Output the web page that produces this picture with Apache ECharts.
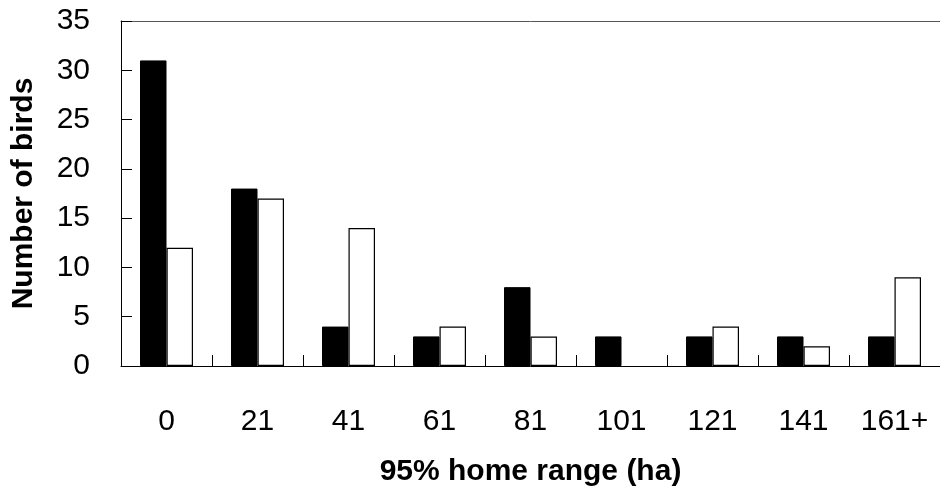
<!DOCTYPE html>
<html>
<head>
<meta charset="utf-8">
<script src="https://cdn.jsdelivr.net/npm/echarts@6/dist/echarts.min.js"></script>
<style>html,body{margin:0;padding:0;background:#fff;}#c{width:940px;height:496px;}</style>
</head>
<body>
<div id="c"></div>
<script>
const categories = ['0', '21', '41', '61', '81', '101', '121', '141', '161+'];
const blackSeries = [31, 18, 4, 3, 8, 3, 3, 3, 3];
const whiteSeries = [12, 17, 14, 4, 3, 0, 4, 2, 9];
const yTicks = [0, 5, 10, 15, 20, 25, 30, 35];

const chart = echarts.init(document.getElementById('c'), null, {renderer: 'canvas'});
const font = '"Liberation Sans", Arial, sans-serif';
chart.setOption({
  animation: false,
  backgroundColor: '#fff',
  grid: {left: 121, top: 21, width: 828, height: 345, show: false},
  xAxis: [{
    type: 'category',
    data: categories,
    position: 'bottom',
    axisLine: {show: true, lineStyle: {color: '#000', width: 1}},
    axisTick: {show: true, inside: true, length: 11, alignWithLabel: false, lineStyle: {color: '#000'}},
    axisLabel: {color: '#000', fontFamily: font, fontSize: 30, margin: 41},
    name: '95% home range (ha)',
    nameLocation: 'middle',
    nameGap: 91,
    nameTextStyle: {color: '#000', fontFamily: font, fontSize: 30, fontWeight: 'bold'},
    splitLine: {show: false}
  }, {
    type: 'category',
    data: categories,
    position: 'top',
    axisLine: {show: true, lineStyle: {color: '#555', width: 1}},
    axisTick: {show: false},
    axisLabel: {show: false},
    splitLine: {show: false}
  }],
  yAxis: {
    type: 'value',
    min: yTicks[0],
    max: yTicks[yTicks.length - 1],
    interval: 5,
    axisLine: {show: true, lineStyle: {color: '#000', width: 1}},
    axisTick: {show: true, inside: true, length: 11, lineStyle: {color: '#000'}},
    axisLabel: {color: '#000', fontFamily: font, fontSize: 30, margin: 31},
    splitLine: {show: false},
    name: 'Number of birds',
    nameLocation: 'middle',
    nameGap: 82,
    nameTextStyle: {color: '#000', fontFamily: font, fontSize: 30, fontWeight: 'bold'}
  },
  series: [{
    type: 'bar',
    data: blackSeries,
    barWidth: 26.5,
    barGap: '0%',
    itemStyle: {color: '#000', borderColor: '#000', borderWidth: 1}
  }, {
    type: 'bar',
    data: whiteSeries.map(v => v === 0 ? {value: v, itemStyle: {borderWidth: 0}} : v),
    barWidth: 26.5,
    barGap: '0%',
    itemStyle: {color: '#fff', borderColor: '#000', borderWidth: 1.2}
  }]
});
</script>
</body>
</html>
